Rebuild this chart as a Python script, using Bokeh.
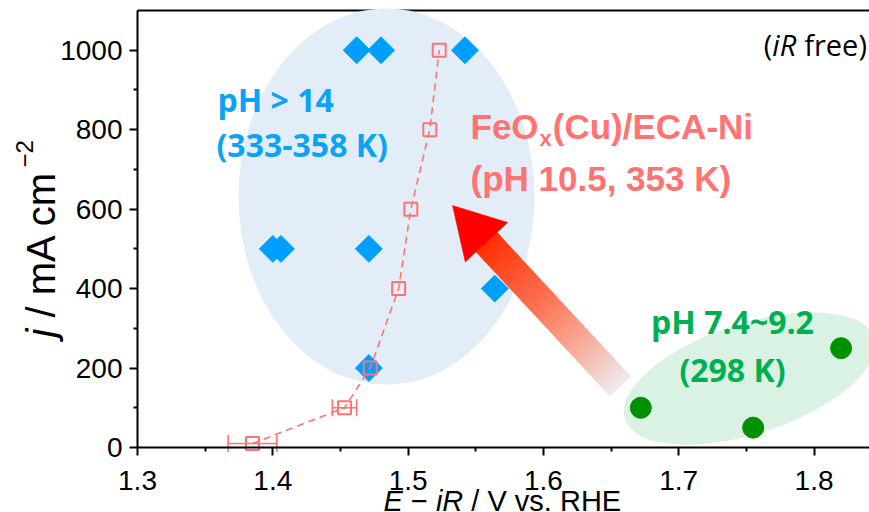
import numpy as np
from bokeh.plotting import figure
from bokeh.models import Range1d, Label, Whisker, ColumnDataSource, TeeHead, FixedTicker, LinearAxis
from bokeh.embed import file_html
from bokeh.resources import INLINE

# ---------------- data ----------------
alk_E = [1.462, 1.480, 1.542, 1.400, 1.406, 1.471, 1.564, 1.471]
alk_j = [1000, 1000, 1000, 500, 500, 500, 400, 200]
feo_E = [1.385, 1.453, 1.472, 1.493, 1.502, 1.516, 1.523]
feo_j = [10, 100, 200, 400, 600, 800, 1000]
feo_err = [0.018, 0.009, 0.008, 0.007, 0.007, 0.006, 0.007]
neu_E = [1.672, 1.755, 1.820]
neu_j = [100, 50, 250]
x_ticks = [1.3, 1.4, 1.5, 1.6, 1.7, 1.8]
x_minor = [1.35, 1.45, 1.55, 1.65, 1.75]
y_ticks = [0, 200, 400, 600, 800, 1000]
y_minor = [100, 300, 500, 700, 900]

# ---------------- layout ----------------
W, H = 869, 512
L, R, T, B = 137, 869, 10, 447          # data-area edges (page px)
X0, X1 = 1.3, 1.841
Y0, Y1 = 0, 1100
sx = (R - L) / (X1 - X0)
sy = (B - T) / (Y1 - Y0)

def dx(px):
    return X0 + (px - L) / sx

def dy(py):
    return Y0 + (B - py) / sy

BLUE = "#009ffd"
BLUE_TXT = "#0aa3f5"
RED = "#ff7373"
GREEN = "#009100"
GREEN_TXT = "#00b050"

# frame covers the whole canvas; axes are pinned at the data-area edges
p = figure(width=W, height=H,
           x_range=Range1d(dx(0), dx(W)), y_range=Range1d(dy(H), dy(0)),
           output_backend="svg", toolbar_location=None,
           x_axis_location=None, y_axis_location=None,
           min_border_left=0, min_border_right=0, min_border_top=0, min_border_bottom=0)
p.outline_line_color = None
p.grid.visible = False
p.background_fill_color = "white"
p.border_fill_color = "white"

xaxis = LinearAxis(fixed_location=Y0, bounds=(X0, X1))
yaxis = LinearAxis(fixed_location=X0, bounds=(Y0, Y1))
for ax, major, minor in ((xaxis, x_ticks, x_minor), (yaxis, y_ticks, y_minor)):
    ax.ticker = FixedTicker(ticks=major, minor_ticks=minor)
    ax.axis_line_width = 2
    ax.axis_line_color = "black"
    ax.major_tick_line_width = 2
    ax.minor_tick_line_width = 2
    ax.major_tick_in = 0
    ax.major_tick_out = 8
    ax.minor_tick_in = 0
    ax.minor_tick_out = 4
    ax.major_label_text_font = "Liberation Sans"
    ax.major_label_text_font_size = "28px"
    ax.major_label_text_color = "black"
xaxis.major_label_standoff = 15
yaxis.major_label_standoff = 7
xaxis.major_label_overrides = {t: f"{t:.1f}" for t in x_ticks}
p.add_layout(xaxis, "below")
p.add_layout(yaxis, "left")

# top border line
p.segment(x0=[X0], y0=[Y1], x1=[X1], y1=[Y1], line_color="black", line_width=2)

# ---------------- background ellipses ----------------
p.ellipse(x=[dx(386)], y=[dy(196)], width=[296 / sx], height=[376 / sy],
          fill_color="#e2edf8", line_color=None)
p.ellipse(x=[dx(749)], y=[dy(378)], width=[262], height=[110], angle=[np.deg2rad(18)],
          width_units="screen", height_units="screen", fill_color="#d9f2e4", line_color=None)

# ---------------- data marks ----------------
p.scatter(alk_E, alk_j, marker="square", angle=np.pi / 4, size=19,
          fill_color=BLUE, line_color=BLUE)
p.scatter(neu_E, neu_j, marker="circle", size=21, fill_color=GREEN, line_color=GREEN)

p.line(feo_E, feo_j, line_color=RED, line_width=1.6, line_dash="7 5")
src = ColumnDataSource(dict(base=feo_j,
                            lower=[e - s for e, s in zip(feo_E, feo_err)],
                            upper=[e + s for e, s in zip(feo_E, feo_err)]))
p.add_layout(Whisker(source=src, base="base", lower="lower", upper="upper", dimension="width",
                     line_color=RED, line_width=1.6,
                     lower_head=TeeHead(size=17, line_color=RED, line_width=1.6),
                     upper_head=TeeHead(size=17, line_color=RED, line_width=1.6)))
p.scatter(feo_E, feo_j, marker="square", size=13, fill_color=None, line_color=RED, line_width=2)

# ---------------- gradient arrow ----------------
ARROW_TIP = (dx(452), dy(205))
ARROW_TAIL = (dx(620), dy(386))
HEAD_LEN, HEAD_W, SHAFT_W = 50, 58, 29
tip = np.array([(ARROW_TIP[0] - X0) * sx, (ARROW_TIP[1] - Y0) * sy])
tail = np.array([(ARROW_TAIL[0] - X0) * sx, (ARROW_TAIL[1] - Y0) * sy])
length = np.linalg.norm(tail - tip)
d = (tail - tip) / length
n = np.array([-d[1], d[0]])

def to_data(pt):
    return X0 + pt[0] / sx, Y0 + pt[1] / sy

stops = [(0.0, (255, 45, 0)), (0.45, (253, 120, 90)), (0.75, (246, 180, 165)), (1.0, (238, 236, 242))]

def grad(t):
    for (t0, c0), (t1, c1) in zip(stops[:-1], stops[1:]):
        if t <= t1:
            f = (t - t0) / (t1 - t0)
            c = [int(round(a + (b - a) * f)) for a, b in zip(c0, c1)]
            return "#%02x%02x%02x" % tuple(c)
    return "#%02x%02x%02x" % stops[-1][1]

NSEG = 48
s_start = HEAD_LEN - 2
xs, ys, cols = [], [], []
for k in range(NSEG):
    a = s_start + (length - s_start) * k / NSEG
    b = s_start + (length - s_start) * (k + 1) / NSEG + (0.6 if k < NSEG - 1 else 0)
    pts = [tip + d * a + n * SHAFT_W / 2, tip + d * b + n * SHAFT_W / 2,
           tip + d * b - n * SHAFT_W / 2, tip + d * a - n * SHAFT_W / 2]
    dd = [to_data(q) for q in pts]
    xs.append([q[0] for q in dd])
    ys.append([q[1] for q in dd])
    cols.append(grad((k + 0.5) / NSEG))
p.patches(xs, ys, fill_color=cols, line_color=None)
head = [tip, tip + d * HEAD_LEN + n * HEAD_W / 2, tip + d * HEAD_LEN - n * HEAD_W / 2]
hd = [to_data(q) for q in head]
p.patch([q[0] for q in hd], [q[1] for q in hd], fill_color="#ff0000", line_color="#ff0000", line_width=0.5)

# ---------------- annotations ----------------
K = 0.25  # empirical baseline correction (fraction of font size)

def lab(px, py, text, font, size, color, style="normal", align="left", angle=0.0):
    if angle == 0.0:
        py = py - K * size
    else:
        px = px - K * size
    p.add_layout(Label(x=dx(px), y=dy(py), text=text, text_font=font, text_font_size=f"{size}px",
                       text_font_style=style, text_color=color, text_align=align,
                       text_baseline="alphabetic", angle=angle))

# pH > 14 group
lab(217, 107, "pH > 14", "Open Sans", 32, BLUE_TXT, "bold")
lab(216, 152, "(333-358 K)", "Open Sans", 32, BLUE_TXT, "bold")

# neutral group
lab(732, 329, "pH 7.4~9.2", "Open Sans", 32, GREEN_TXT, "bold", "center")
lab(732, 377, "(298 K)", "Open Sans", 32, GREEN_TXT, "bold", "center")

# FeOx(Cu)/ECA-Ni
RF = 35
x0 = 470
lab(x0, 135, "FeO", "Liberation Sans", RF, RED, "bold")
lab(x0 + 1.945 * RF + 1, 143, "x", "Liberation Sans", 22, RED, "bold")
lab(x0 + 1.945 * RF + 0.556 * 22 + 2, 135, "(Cu)/ECA-Ni", "Liberation Sans", RF, RED, "bold")
lab(x0, 187, "(pH 10.5, 353 K)", "Liberation Sans", RF, RED, "bold")

# (iR free)
IF = 29
ix = 866 - 3.543 * IF
lab(ix, 51, "(", "Open Sans", IF, "black")
lab(ix + 0.296 * IF, 51, "iR", "Open Sans", IF, "black", "italic")
lab(ix + (0.296 + 0.839 + 0.26) * IF, 51, "free)", "Open Sans", IF, "black")

# x-axis title
XF = 29
xs0 = 383
XB = 508
lab(xs0, XB, "E", "Liberation Sans", XF, "black", "italic")
lab(xs0 + (0.667 + 0.278) * XF, XB, "\u2212", "Liberation Sans", XF, "black")
lab(xs0 + (0.667 + 0.278 + 0.584 + 0.278) * XF, XB, "iR", "Liberation Sans", XF, "black", "italic")
lab(xs0 + (0.667 + 0.278 + 0.584 + 0.278 + 0.944 + 0.278) * XF, XB, "/ V vs. RHE",
    "Liberation Sans", XF, "black")

# y-axis title (rotated)
YF = 40
ys0 = 337
lab(50, ys0, "j", "Liberation Sans", YF, "black", "italic", angle=np.pi / 2)
lab(50, ys0 - (0.222 + 0.278) * YF, "/ mA cm", "Liberation Sans", YF, "black", angle=np.pi / 2)
lab(30, 167, "\u22122", "Liberation Sans", 24, "black", angle=np.pi / 2)

open("out.html", "w").write(file_html(p, INLINE))
